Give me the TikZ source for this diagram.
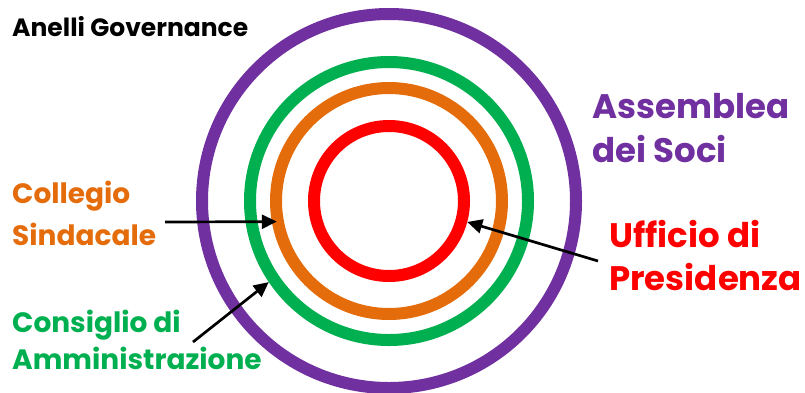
\documentclass[tikz,border=0pt]{standalone}
\usepackage{fontspec}
\setmainfont{Poppins}
\usetikzlibrary{arrows.meta}

\definecolor{socipurple}{HTML}{7030A0}
\definecolor{cdagreen}{HTML}{00B050}
\definecolor{sindorange}{HTML}{E46C0A}
\definecolor{presred}{HTML}{FF0000}

\begin{document}
\begin{tikzpicture}[
    x=1pt,y=-1pt,
    >={Triangle[length=15pt,width=14pt]},
    ring/.style={draw=#1,circle,line width=12pt,inner sep=0pt,outer sep=6pt},
    lbl/.style={anchor=base west,align=left,inner sep=0pt,font=\bfseries},
    pointer/.style={->,line width=2.7pt,black},
]
\useasboundingbox (0,0) rectangle (805,392);

% ---- the four governance rings ----
\coordinate (centre) at (389,201);
\node[ring=socipurple,minimum size=374pt] (soci) at (centre) {};
\node[ring=cdagreen,minimum size=278pt]   (cda)  at (centre) {};
\node[ring=sindorange,minimum size=226pt] (sind) at (centre) {};
\node[ring=presred,minimum size=150pt]    (pres) at (centre) {};

% ---- labels (placed at the baseline of their last line) ----
\node[lbl,font=\bfseries\fontsize{25}{30}\selectfont] (title) at (12,36) {Anelli Governance};
\node[lbl,text=socipurple,font=\bfseries\fontsize{34}{44}\selectfont] (socilbl) at (592,162)
     {Assemblea\\dei Soci};
\node[lbl,text=presred,font=\bfseries\fontsize{34}{43}\selectfont] (preslbl) at (609,290)
     {Ufficio di\\Presidenza};
\node[lbl,text=sindorange,font=\bfseries\fontsize{28}{42}\selectfont] (sindlbl) at (12,245)
     {Collegio\\Sindacale};
\node[lbl,text=cdagreen,font=\bfseries\fontsize{28}{37}\selectfont] (cdalbl) at (12,369)
     {Consiglio di\\Amministrazione};

% ---- pointers ----
\coordinate (sindtail) at (165,222);
\coordinate (cdatail)  at (193,342);
\coordinate (prestail) at (598,261);
\draw[pointer,shorten >=-5pt] (sindtail) -- (sind.190);
\draw[pointer] (cdatail) -- (cda.214);
\draw[pointer] (prestail) -- (pres.345);

\end{tikzpicture}
\end{document}
